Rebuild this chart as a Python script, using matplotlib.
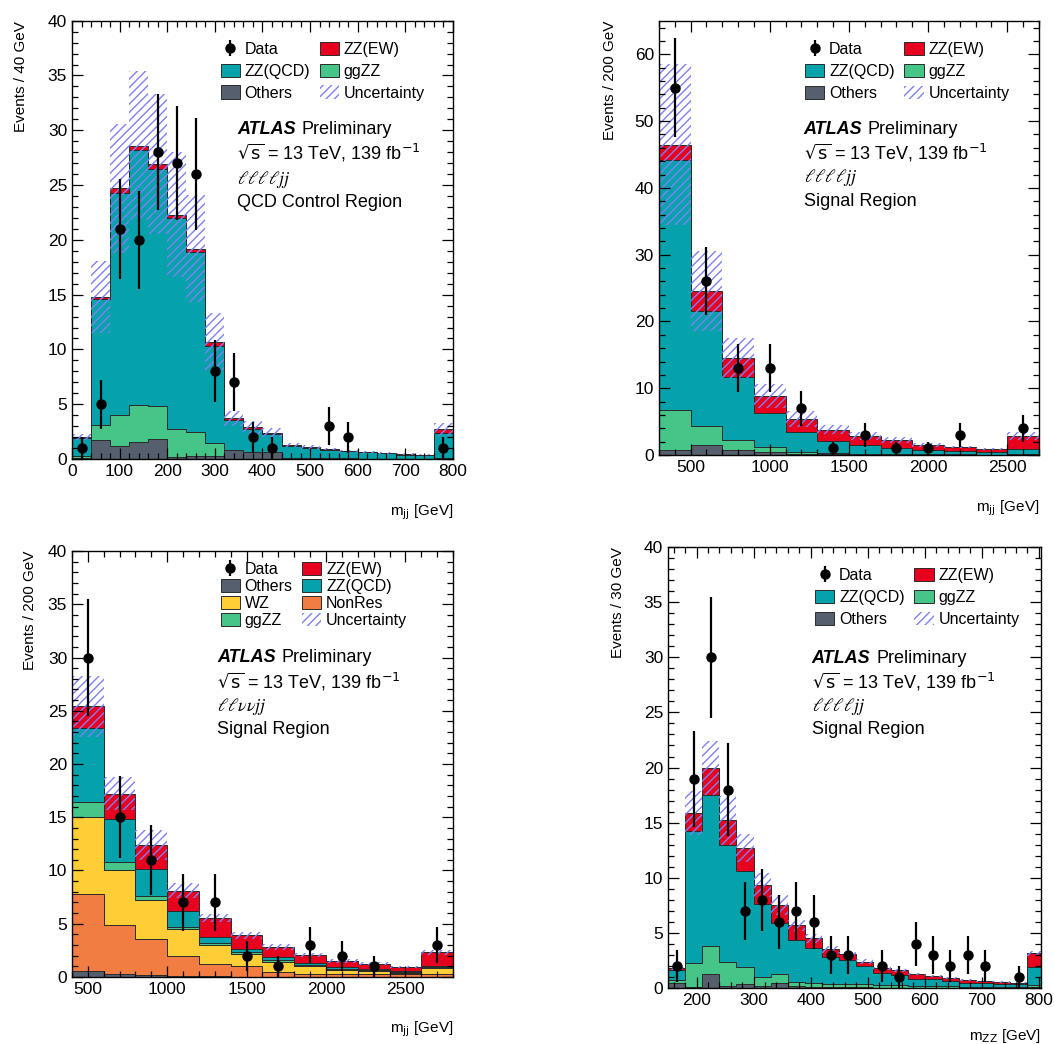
import numpy as np
import matplotlib
matplotlib.use('Agg')
import matplotlib.pyplot as plt
from matplotlib.patches import Patch
from matplotlib.ticker import MultipleLocator

plt.rcParams['font.family'] = ['Liberation Sans', 'DejaVu Sans']
plt.rcParams['hatch.linewidth'] = 1.0

# colours
C_EW = '#e8001f'
C_QCD = '#05a2ab'
C_GGZZ = '#45c588'
C_OTHERS = '#565f6e'
C_WZ = '#ffcd35'
C_NONRES = '#f27d43'
C_UNC = '#7f7ff5'

# ---- 4l jj, QCD control region, m_jj (40 GeV bins, 0-800)
cr_edges = np.arange(0, 801, 40)
cr_others = [0.1, 1.7, 1.15, 1.6, 1.8, 0.15, 0.3, 0.3, 0.8, 0.6, 0.6, 0.03, 0.03,
             0.03, 0.03, 0.02, 0.02, 0.02, 0.02, 0.05]
cr_ggzz = [0.2, 1.4, 2.85, 3.3, 3.0, 2.55, 2.2, 1.15, 0.05, 0.05, 0.05, 0.02, 0.02,
           0.02, 0.02, 0.01, 0.01, 0.01, 0.01, 0.05]
cr_qcd = [1.6, 11.5, 20.3, 23.3, 21.7, 19.25, 16.35, 8.9, 2.7, 2.13, 1.65, 1.17,
          0.98, 0.79, 0.65, 0.57, 0.48, 0.38, 0.34, 2.3]
cr_ew = [0.1, 0.2, 0.4, 0.4, 0.4, 0.35, 0.35, 0.35, 0.15, 0.12, 0.1, 0.08, 0.07,
         0.06, 0.05, 0.05, 0.04, 0.04, 0.03, 0.3]
cr_unc = [0.3, 3.3, 5.9, 6.8, 6.4, 5.7, 4.9, 2.6, 0.7, 0.6, 0.4, 0.2, 0.15, 0.12,
          0.1, 0.08, 0.07, 0.06, 0.05, 0.6]
cr_data = [1, 5, 21, 20, 28, 27, 26, 8, 7, 2, 1, 0, 0, 3, 2, 0, 0, 0, 0, 1]

# ---- 4l jj, signal region, m_jj (200 GeV bins, 300-2700)
sr_edges = np.arange(300, 2701, 200)
sr_others = [0.8, 1.5, 0.75, 0.5, 0.2, 0.1, 0.1, 0.05, 0.05, 0.05, 0.03, 0.1]
sr_ggzz = [5.9, 2.9, 1.45, 0.7, 0.3, 0.15, 0.1, 0.1, 0.05, 0.05, 0.03, 0.1]
sr_qcd = [37.5, 17.2, 9.5, 5.1, 2.9, 1.9, 1.3, 0.85, 0.6, 0.5, 0.44, 0.65]
sr_ew = [2.3, 2.9, 2.8, 2.5, 2.0, 1.65, 1.4, 1.2, 0.8, 0.6, 0.45, 1.95]
sr_unc = [12.0, 6.0, 3.0, 1.8, 1.15, 0.7, 0.6, 0.45, 0.3, 0.2, 0.13, 0.6]
sr_data = [55, 26, 13, 13, 7, 1, 3, 1, 1, 3, 0, 4]

# ---- llvv jj, signal region, m_jj (200 GeV bins, 400-2800)
vv_edges = np.arange(400, 2801, 200)
vv_others = [0.55, 0.25, 0.15, 0.08, 0.05, 0.04, 0.03, 0.02, 0.02, 0.02, 0.02, 0.02]
vv_nonres = [7.25, 4.6, 3.4, 1.92, 1.2, 0.96, 0.44, 0.28, 0.26, 0.28, 0.23, 0.28]
vv_wz = [7.2, 5.15, 3.65, 2.5, 1.75, 1.2, 0.93, 0.7, 0.42, 0.26, 0.15, 0.55]
vv_ggzz = [1.4, 0.8, 0.4, 0.2, 0.15, 0.1, 0.2, 0.15, 0.05, 0.05, 0.04, 0.05]
vv_qcd = [7.0, 4.0, 2.5, 1.5, 0.6, 0.3, 0.3, 0.15, 0.15, 0.11, 0.09, 0.1]
vv_ew = [2.0, 2.4, 2.3, 1.9, 1.8, 1.3, 0.9, 0.75, 0.6, 0.53, 0.37, 1.3]
vv_unc = [2.9, 1.55, 1.4, 0.7, 0.35, 0.3, 0.25, 0.2, 0.18, 0.15, 0.1, 0.2]
vv_data = [30, 15, 11, 7, 7, 2, 1, 3, 2, 1, 0, 3]

# ---- 4l jj, signal region, m_ZZ (30 GeV bins, 150-810)
zz_edges = np.arange(150, 811, 30)
zz_others = [0.45, 0.05, 1.27, 0.2, 0.35, 0.2, 0.5, 0.15, 0.1, 0.08, 0.06, 0.05,
             0.04, 0.04, 0.03, 0.03, 0.03, 0.02, 0.02, 0.02, 0.02, 0.05]
zz_ggzz = [0.3, 2.2, 2.58, 2.2, 1.6, 0.83, 0.77, 0.43, 0.35, 0.32, 0.3, 0.28,
           0.24, 0.2, 0.17, 0.15, 0.12, 0.1, 0.08, 0.07, 0.06, 0.2]
zz_qcd = [0.9, 11.95, 13.65, 10.6, 8.65, 6.57, 4.63, 3.82, 3.15, 2.4, 2.14, 1.67,
          1.08, 0.96, 0.65, 0.62, 0.52, 0.38, 0.32, 0.31, 0.28, 1.65]
zz_ew = [0.15, 1.7, 2.5, 2.2, 2.1, 1.75, 1.65, 1.3, 0.9, 0.7, 0.6, 0.4, 0.44, 0.4,
         0.45, 0.3, 0.23, 0.23, 0.18, 0.15, 0.14, 1.25]
zz_unc = [0.15, 2.0, 2.45, 2.2, 1.3, 1.05, 0.9, 0.5, 0.4, 0.3, 0.2, 0.2, 0.15,
          0.12, 0.1, 0.1, 0.08, 0.07, 0.06, 0.05, 0.05, 0.25]
zz_data = [2, 19, 30, 18, 7, 8, 6, 7, 6, 3, 3, 0, 2, 1, 4, 3, 2, 3, 2, 0, 1, 0]


def draw_panel(ax, edges, stack, unc, data):
  """Draws stacked histograms, the uncertainty band and the data points."""
  bottom = np.zeros(len(edges) - 1)
  handles = {}
  for values, color, label in stack:
    top = bottom + np.asarray(values)
    ax.stairs(top, edges, baseline=bottom, fill=True, facecolor=color,
              edgecolor='#2b2b2b', linewidth=0.7)
    handles[label] = Patch(facecolor=color, edgecolor='#2b2b2b', linewidth=0.7)
    bottom = top
  unc = np.asarray(unc)
  ax.stairs(bottom + unc, edges, baseline=bottom - unc, fill=True,
            facecolor='none', edgecolor=C_UNC, hatch='////', linewidth=0)
  handles['Uncertainty'] = Patch(facecolor='white', edgecolor=C_UNC,
                                 hatch='////', linewidth=0)
  centers = 0.5 * (edges[:-1] + edges[1:])
  data = np.asarray(data, dtype=float)
  data[data == 0] = np.nan
  handles['Data'] = ax.errorbar(centers, data, yerr=np.sqrt(data), fmt='o',
                                color='black', ms=6.5, elinewidth=1.6,
                                capsize=0, zorder=5)
  return handles


def style_axes(ax, xlim, ylim, xmaj, xmin, ymaj, ymin, xlabel, ylabel, ylab_x,
               xlab_y=-0.1):
  ax.set_xlim(*xlim)
  ax.set_ylim(*ylim)
  ax.xaxis.set_major_locator(MultipleLocator(xmaj))
  ax.xaxis.set_minor_locator(MultipleLocator(xmin))
  ax.yaxis.set_major_locator(MultipleLocator(ymaj))
  ax.yaxis.set_minor_locator(MultipleLocator(ymin))
  ax.tick_params(which='both', direction='in', top=True, right=True,
                 labelsize=12.5, width=0.9)
  ax.tick_params(which='major', length=8)
  ax.tick_params(which='minor', length=4)
  for s in ax.spines.values():
    s.set_linewidth(1.0)
  ax.set_xlabel(xlabel, fontsize=11, loc='right')
  ax.xaxis.set_label_coords(1.0, xlab_y)
  ax.set_ylabel(ylabel, fontsize=11, loc='top')
  ax.yaxis.set_label_coords(ylab_x, 1.0)


def add_texts(ax, x, ys, channel, region):
  atlas = ax.text(x, ys[0], 'ATLAS', transform=ax.transAxes, fontsize=13,
                  fontweight='bold', fontstyle='italic', va='center')
  ax.annotate('Preliminary', xy=(1, 0), xycoords=atlas, xytext=(4, 0),
              textcoords='offset points', fontsize=13, va='bottom')
  ax.text(x, ys[1], r'$\sqrt{\rm s}$ = 13 TeV, 139 fb$^{-1}$',
          transform=ax.transAxes, fontsize=13, va='center')
  ax.text(x, ys[2], channel, transform=ax.transAxes, fontsize=13, va='center',
          math_fontfamily='stix')
  ax.text(x, ys[3], region, transform=ax.transAxes, fontsize=13, va='center')


def add_legend(ax, handles, order, anchor, spacing):
  ax.legend([handles[k] for k in order], order, loc='upper left',
            bbox_to_anchor=anchor, ncol=2, frameon=False, fontsize=11.5,
            handlelength=1.2, handleheight=0.9, handletextpad=0.3,
            columnspacing=0.6, labelspacing=spacing, borderpad=0,
            borderaxespad=0)


fig = plt.figure(figsize=(10.54, 10.44), dpi=100)

ax1 = fig.add_axes([0.0683, 0.5603, 0.3615, 0.4199])
ax2 = fig.add_axes([0.6252, 0.5642, 0.3605, 0.4157])
ax3 = fig.add_axes([0.0683, 0.0642, 0.3615, 0.4080])
ax4 = fig.add_axes([0.6338, 0.0536, 0.3535, 0.4224])

four_l_order = ['Data', 'ZZ(QCD)', 'Others', 'ZZ(EW)', 'ggZZ', 'Uncertainty']

# top left
h = draw_panel(ax1, cr_edges, [(cr_others, C_OTHERS, 'Others'),
                               (cr_ggzz, C_GGZZ, 'ggZZ'),
                               (cr_qcd, C_QCD, 'ZZ(QCD)'),
                               (cr_ew, C_EW, 'ZZ(EW)')], cr_unc, cr_data)
style_axes(ax1, (0, 800), (0, 40), 100, 20, 5, 1,
           r'm$_{\rm jj}$ [GeV]', 'Events / 40 GeV', -0.115)
add_legend(ax1, h, four_l_order, (0.39, 0.952), 0.42)
add_texts(ax1, 0.433, [0.751, 0.698, 0.638, 0.585],
          r'$\ell\ell\ell\ell jj$', 'QCD Control Region')

# top right
h = draw_panel(ax2, sr_edges, [(sr_others, C_OTHERS, 'Others'),
                               (sr_ggzz, C_GGZZ, 'ggZZ'),
                               (sr_qcd, C_QCD, 'ZZ(QCD)'),
                               (sr_ew, C_EW, 'ZZ(EW)')], sr_unc, sr_data)
style_axes(ax2, (300, 2700), (0, 65), 500, 100, 10, 2,
           r'm$_{\rm jj}$ [GeV]', 'Events / 200 GeV', -0.11)
add_legend(ax2, h, four_l_order, (0.385, 0.952), 0.42)
add_texts(ax2, 0.381, [0.751, 0.696, 0.640, 0.585],
          r'$\ell\ell\ell\ell jj$', 'Signal Region')

# bottom left
h = draw_panel(ax3, vv_edges, [(vv_others, C_OTHERS, 'Others'),
                               (vv_nonres, C_NONRES, 'NonRes'),
                               (vv_wz, C_WZ, 'WZ'),
                               (vv_ggzz, C_GGZZ, 'ggZZ'),
                               (vv_qcd, C_QCD, 'ZZ(QCD)'),
                               (vv_ew, C_EW, 'ZZ(EW)')], vv_unc, vv_data)
style_axes(ax3, (400, 2800), (0, 40), 500, 100, 5, 1,
           r'm$_{\rm jj}$ [GeV]', 'Events / 200 GeV', -0.092)
add_legend(ax3, h, ['Data', 'Others', 'WZ', 'ggZZ',
                    'ZZ(EW)', 'ZZ(QCD)', 'NonRes', 'Uncertainty'],
           (0.39, 0.975), 0.12)
add_texts(ax3, 0.381, [0.749, 0.692, 0.636, 0.580],
          r'$\ell\ell\nu\nu jj$', 'Signal Region')

# bottom right
h = draw_panel(ax4, zz_edges, [(zz_others, C_OTHERS, 'Others'),
                               (zz_ggzz, C_GGZZ, 'ggZZ'),
                               (zz_qcd, C_QCD, 'ZZ(QCD)'),
                               (zz_ew, C_EW, 'ZZ(EW)')], zz_unc, zz_data)
style_axes(ax4, (150, 803), (0, 40), 100, 20, 5, 1,
           r'm$_{\rm ZZ}$ [GeV]', 'Events / 30 GeV', -0.115, xlab_y=-0.088)
add_legend(ax4, h, four_l_order, (0.395, 0.952), 0.42)
add_texts(ax4, 0.386, [0.748, 0.694, 0.639, 0.587],
          r'$\ell\ell\ell\ell jj$', 'Signal Region')

fig.savefig('out.png', dpi=100)
